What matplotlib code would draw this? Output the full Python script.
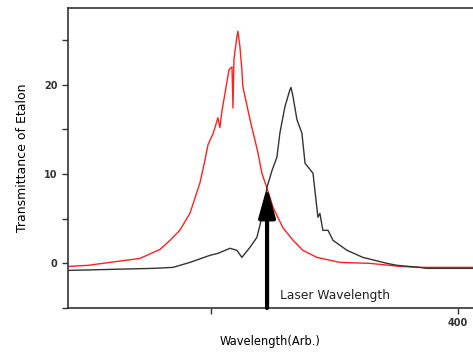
import matplotlib
matplotlib.use("Agg")
import matplotlib.pyplot as plt
from matplotlib.ticker import FixedLocator

plt.rcParams["font.family"] = ["DejaVu Sans"]

# Etalon transmittance, red trace
red_wavelength = [242.1, 250.2, 259.1, 268.4, 271.3, 279.4, 283.4, 287.4, 291.5, 295.5,
                  297.2, 298.8, 300.8, 302.8, 303.6, 304.5, 305.7, 307.3, 308.5, 308.9,
                  309.3, 310.5, 310.9, 311.7, 312.5, 312.9, 315.8, 317.8, 319.0, 320.6,
                  322.7, 325.1, 329.1, 333.2, 337.2, 342.9, 352.2, 364.4, 376.5, 384.6, 406.1]
red_trans = [-0.34, -0.22, 0.11, 0.45, 0.56, 1.57, 2.58, 3.71, 5.62, 8.99,
             11.1, 13.3, 14.5, 16.3, 15.2, 17.2, 19.1, 21.7, 22.0, 17.4,
             22.9, 25.4, 26.0, 24.3, 21.7, 19.8, 16.1, 13.8, 12.4, 10.1,
             8.4, 6.3, 4.0, 2.6, 1.46, 0.67, 0.11, 0.0, -0.34, -0.45, -0.45]

# black trace
black_wavelength = [242.1, 276.5, 284.6, 291.5, 299.6, 302.8, 307.7, 310.5, 312.5, 315.8,
                    318.6, 320.6, 322.7, 324.7, 326.7, 327.9, 329.9, 331.9, 332.4, 333.2,
                    334.8, 336.8, 338.1, 341.3, 343.3, 344.1, 345.3, 347.4, 349.4, 355.1,
                    361.5, 371.3, 375.3, 384.6, 387.4, 406.1]
black_trans = [-0.79, -0.56, -0.45, 0.11, 0.9, 1.12, 1.69, 1.46, 0.67, 1.8,
               2.92, 5.17, 8.54, 10.4, 11.9, 14.6, 17.5, 19.4, 19.7, 18.7,
               16.1, 14.6, 11.2, 10.1, 5.17, 5.6, 3.7, 3.7, 2.58, 1.46,
               0.67, 0.0, -0.22, -0.45, -0.56, -0.56]

laser_wavelength = 322.7
laser_peak = 8.6

fig = plt.figure(figsize=(4.73, 3.56), dpi=100)
ax = fig.add_axes([0.1438, 0.1348, 0.8562, 0.8427])

ax.plot(red_wavelength, red_trans, color="#ff2020", lw=1.0)
ax.plot(black_wavelength, black_trans, color="#333333", lw=1.0)

# laser arrow
ax.annotate("", xy=(laser_wavelength, laser_peak), xytext=(laser_wavelength, -5),
            arrowprops=dict(arrowstyle="-|>,head_width=0.5,head_length=1.8",
                            lw=3, color="black", shrinkA=0, shrinkB=0))
ax.text(327.8, -3.6, "Laser Wavelength", fontsize=8.8, ha="left", va="center",
        color="#222222")

ax.set_xlim(242.1, 406.1)
ax.set_ylim(-5, 28.6)

ax.spines["right"].set_visible(False)
for s in ["left", "bottom", "top"]:
    ax.spines[s].set_linewidth(1.2)
    ax.spines[s].set_color("#333333")

ax.xaxis.set_major_locator(FixedLocator([400]))
ax.xaxis.set_minor_locator(FixedLocator([300]))
ax.yaxis.set_major_locator(FixedLocator([0, 10, 20]))
ax.yaxis.set_minor_locator(FixedLocator([-5, 5, 15, 25]))
ax.tick_params(which="major", length=4.5, width=1, labelsize=7, pad=3,
               colors="#333333")
ax.tick_params(which="minor", length=4, width=1, colors="#333333")
for lab in ax.get_xticklabels() + ax.get_yticklabels():
    lab.set_fontweight("bold")

ax.set_xlabel("Wavelength(Arb.)", fontsize=8.3, labelpad=5)
ax.set_ylabel("Transmittance of Etalon", fontsize=9, labelpad=11)

fig.savefig("out.png", dpi=100)
